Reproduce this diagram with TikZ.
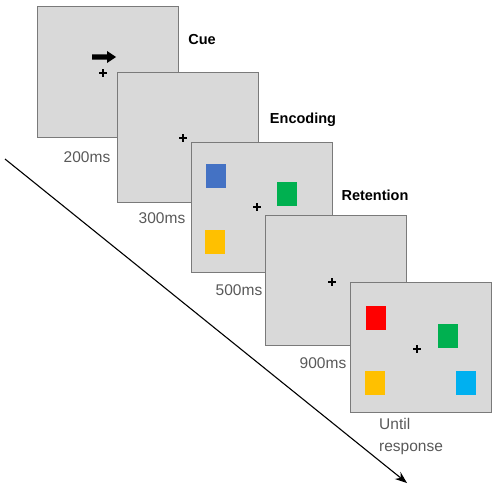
\documentclass[tikz,border=0pt]{standalone}
\usepackage{fontspec}
\setmainfont{Liberation Sans}
\usetikzlibrary{arrows.meta}
\definecolor{scrfill}{HTML}{D9D9D9}
\definecolor{scrline}{HTML}{7A7A7A}
\definecolor{timegray}{HTML}{595959}
\definecolor{cblue}{HTML}{4472C4}
\definecolor{cgreen}{HTML}{00B050}
\definecolor{cyellow}{HTML}{FFC000}
\definecolor{cred}{HTML}{FF0000}
\definecolor{ccyan}{HTML}{00B0F0}
\tikzset{
  screen/.style={draw=scrline, fill=scrfill, line width=1pt, minimum width=141pt, minimum height=130pt, inner sep=0pt},
  patch/.style={minimum width=20pt, minimum height=24pt, inner sep=0pt},
  phase/.style={font=\fontsize{14.5}{16}\selectfont\bfseries, text=black, inner sep=0pt},
  timelbl/.style={font=\fontsize{15.5}{18}\selectfont, text=timegray, inner sep=0pt},
  fixcross/.style={line width=1.7pt, black},
}
\newcommand{\fixat}[1]{\draw[fixcross] ($(#1)+(-4,0)$) -- ($(#1)+(4,0)$) ($(#1)+(0,-4)$) -- ($(#1)+(0,4)$);}
\usetikzlibrary{calc}
\begin{document}
\begin{tikzpicture}[x=1pt,y=-1pt]
\useasboundingbox (0,0) rectangle (500,487);
% time axis
\coordinate (tstart) at (5,159);
\coordinate (tend) at (407,483);
\draw[line width=1.1pt, -{Stealth[length=12pt,width=9pt]}] (tstart) -- (tend);
% screens
\node[screen] (s1) at (107.5,72) {};
\node[screen] (s2) at (187.5,137.5) {};
\node[screen] (s3) at (261.5,207.5) {};
\node[screen] (s4) at (336,280) {};
\node[screen] (s5) at (421,347.5) {};
% cue arrow
\fill[black] (92,54.5) -- (107,54.5) -- (107,51) -- (116,57) -- (107,63) -- (107,59.5) -- (92,59.5) -- cycle;
% fixation crosses
\coordinate (f1) at (103,73);
\coordinate (f2) at (183,138);
\coordinate (f3) at (257,207);
\coordinate (f4) at (332,282);
\coordinate (f5) at (417,349);
\fixat{f1}\fixat{f2}\fixat{f3}\fixat{f4}\fixat{f5}
% encoding patches
\node[patch, fill=cblue] (e1) at (216,176) {};
\node[patch, fill=cgreen] (e2) at (287,194) {};
\node[patch, fill=cyellow] (e3) at (214.5,241.5) {};
% test patches
\node[patch, fill=cred] (t1) at (376,317.5) {};
\node[patch, fill=cgreen] (t2) at (447.5,336) {};
\node[patch, fill=cyellow] (t3) at (374.5,382.5) {};
\node[patch, fill=ccyan] (t4) at (466,382.5) {};
% phase labels
\node[phase] (lcue) at (202,40) {Cue};
\node[phase] (lenc) at (303,120) {Encoding};
\node[phase] (lret) at (375,195) {Retention};
% time labels
\node[timelbl] (d1) at (87,157) {200ms};
\node[timelbl] (d2) at (162,218) {300ms};
\node[timelbl] (d3) at (239,290) {500ms};
\node[timelbl] (d4) at (323,363) {900ms};
\node[timelbl, align=left, anchor=north west, font=\fontsize{15.5}{22}\selectfont] (d5) at (379,418) {Until\\response};
\end{tikzpicture}
\end{document}
